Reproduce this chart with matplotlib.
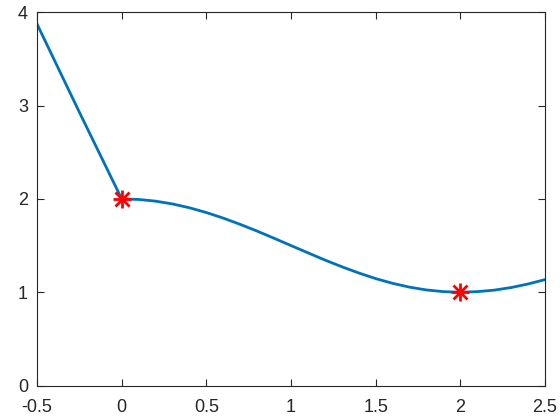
import matplotlib
matplotlib.use("Agg")
import matplotlib.pyplot as plt

plt.rcParams['font.family'] = ['Liberation Sans', 'DejaVu Sans']

# curve data
x_vals = [-0.5, -0.25, 0.0, 0.1, 0.2, 0.3, 0.4, 0.5, 0.6, 0.7, 0.8, 0.9, 1.0,
          1.1, 1.2, 1.3, 1.4, 1.5, 1.6, 1.7, 1.8, 1.9, 2.0, 2.1, 2.2, 2.3, 2.4, 2.5]
y_vals = [3.875, 2.93, 2.0, 1.994, 1.976, 1.946, 1.905, 1.854, 1.794, 1.727, 1.655, 1.578, 1.5,
          1.422, 1.345, 1.273, 1.206, 1.146, 1.095, 1.054, 1.024, 1.006, 1.0, 1.006, 1.022, 1.05, 1.088, 1.135]
# marked points
pt_x = [0, 2]
pt_y = [2, 1]

xticks = [-0.5, 0, 0.5, 1, 1.5, 2, 2.5]
xtick_labels = ['-0.5', '0', '0.5', '1', '1.5', '2', '2.5']
yticks = [0, 1, 2, 3, 4]

fig = plt.figure(figsize=(5.6, 4.2), dpi=100)
ax = fig.add_axes([37/560, 1-385.5/420, (545-37)/560, (385.5-12.3)/420])
ax.plot(x_vals, y_vals, color='#0072BD', lw=2)
ax.plot(pt_x, pt_y, linestyle='none', marker='+', ms=13, mew=2, color='#FF0000')
ax.plot(pt_x, pt_y, linestyle='none', marker='x', ms=9.5, mew=2, color='#FF0000')

ax.set_xlim(-0.5, 2.5)
ax.set_ylim(0, 4)
ax.set_xticks(xticks)
ax.set_xticklabels(xtick_labels)
ax.set_yticks(yticks)
for s in ax.spines.values():
    s.set_color('#262626')
    s.set_linewidth(0.8)
ax.tick_params(direction='in', top=True, right=True, length=5, width=0.8,
               colors='#262626', labelsize=13)
ax.tick_params(axis='x', pad=10)
ax.tick_params(axis='y', pad=6.5)
fig.savefig('out.png', dpi=100)
